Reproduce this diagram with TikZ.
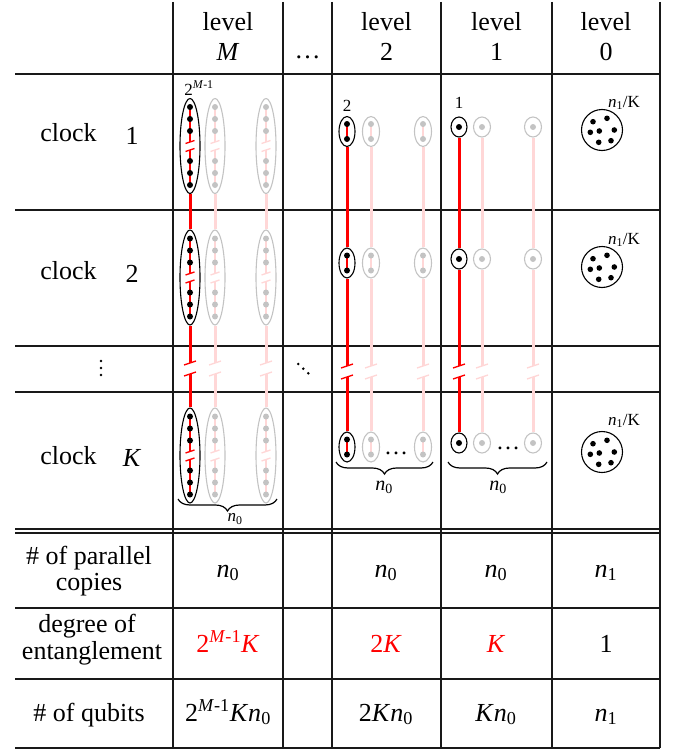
\documentclass[tikz,border=0pt]{standalone}
\usepackage{fontspec}
\setmainfont{Liberation Serif}
\usetikzlibrary{shapes.geometric,decorations.pathreplacing,calc}
\definecolor{pinkl}{RGB}{255,215,215}
\definecolor{grayl}{RGB}{195,195,195}
\definecolor{rulec}{RGB}{25,25,25}
\newcommand\nn[1]{\textit{n}\textsubscript{#1}}
\newcommand\tM{2\textsuperscript{\textit{M}-1}}
% inner dots of a tall ellipse: x, cy, line colour, dot colour
\newcommand\bigin[4]{%
  \draw[#3,line width=2pt] (#1,#2-39) -- (#1,#2-4);
  \draw[#3,line width=2pt] (#1,#2+4) -- (#1,#2+39);
  \draw[#3,tickln] (#1-4.5,#2-2.5) -- (#1+4.5,#2-5.5);
  \draw[#3,tickln] (#1-4.5,#2+5.5) -- (#1+4.5,#2+2.5);
  \foreach \dd in {-39,-27,-15,15,27,39} \fill[#4] (#1,{#2+(\dd)}) circle (3pt);
}
\newcommand\midin[4]{%
  \draw[#3,line width=2pt] (#1,#2-7.5) -- (#1,#2+7.5);
  \fill[#4] (#1,#2-7.5) circle (3pt);
  \fill[#4] (#1,#2+7.5) circle (3pt);
}
\begin{document}
\begin{tikzpicture}[x=1pt,y=-1pt,
  tline/.style={draw=rulec,line width=1.2pt},
  txt/.style={font=\fontsize{26}{28}\selectfont,inner sep=0pt,anchor=base},
  small/.style={font=\fontsize{17}{20}\selectfont,inner sep=0pt},
  bigblk/.style={ellipse,draw=black,line width=1.1pt,minimum width=20,minimum height=95,inner sep=0pt},
  biggry/.style={ellipse,draw=grayl,line width=1.1pt,minimum width=20,minimum height=95,inner sep=0pt},
  midblk/.style={ellipse,draw=black,line width=1.1pt,minimum width=16,minimum height=30,inner sep=0pt},
  midgry/.style={ellipse,draw=grayl,line width=1.1pt,minimum width=17,minimum height=30,inner sep=0pt},
  smlblk/.style={ellipse,draw=black,line width=1.1pt,minimum width=16,minimum height=20,inner sep=0pt},
  smlgry/.style={ellipse,draw=grayl,line width=1.1pt,minimum width=17,minimum height=20,inner sep=0pt},
  pool/.style={circle,draw=black,line width=1.1pt,minimum size=41,inner sep=0pt},
  conn/.style={line width=3pt},
  tickln/.style={line width=1.4pt},
  brc/.style={decorate,decoration={brace,mirror,amplitude=12pt},line width=1.2pt},
]
\useasboundingbox (0,0) rectangle (678,752);

% ---------- table grid ----------
\foreach \x in {173,283,332,441,552,660} \draw[tline] (\x,2) -- (\x,748);
\foreach \y in {74,210,346,392,529,533,608,679,748} \draw[tline] (15,\y) -- (660,\y);

% ---------- header ----------
\foreach \nm/\x/\t in {hM/228/\textit{M}, h2/386.5/2, h1/496.5/1, h0/606/0}{
  \node[txt] (\nm a) at (\x,31) {level};
  \node[txt] (\nm b) at (\x,60) {\t};
}
\node[txt] (hdots) at (307.5,59) {…};

% ---------- row labels ----------
\node[txt] (c1) at (68.5,141) {clock};
\node[txt] (c1n) at (132,144) {1};
\node[txt] (c2) at (68.5,279) {clock};
\node[txt] (c2n) at (132,282) {2};
\node[txt] (cK) at (68.5,464) {clock};
\node[txt] (cKn) at (132,466) {\textit{K}};
\foreach \yy in {361,368,375} \fill (101,\yy) circle (1.4pt);
\foreach \xx/\yy in {298.3/364,303.3/368.7,308.3/373.3} \fill (\xx,\yy) circle (1.4pt);

% ---------- level M ----------
\foreach \r/\cy in {1/146,2/277.5,K/455.5}{
  \bigin{190}{\cy}{red}{black}
  \bigin{215}{\cy}{pinkl}{grayl}
  \bigin{266}{\cy}{pinkl}{grayl}
  \node[bigblk] (M\r a) at (190,\cy) {};
  \node[biggry] (M\r b) at (215,\cy) {};
  \node[biggry] (M\r c) at (266,\cy) {};
}
\node[small] (lM) at (199,88) {\tM};

% ---------- level 2 ----------
\foreach \r/\cy in {1/131.5,2/263,K/447}{
  \midin{347}{\cy}{red}{black}
  \midin{371}{\cy}{pinkl}{grayl}
  \midin{423}{\cy}{pinkl}{grayl}
  \node[midblk] (T\r a) at (347,\cy) {};
  \node[midgry] (T\r b) at (371,\cy) {};
  \node[midgry] (T\r c) at (423,\cy) {};
}
\node[small] (l2) at (347,106) {2};

% ---------- level 1 ----------
\foreach \r/\cy in {1/127,2/259,K/443}{
  \fill[black] (459,\cy) circle (3pt);
  \fill[grayl] (482,\cy) circle (3pt);
  \fill[grayl] (533,\cy) circle (3pt);
  \node[smlblk] (O\r a) at (459,\cy) {};
  \node[smlgry] (O\r b) at (482,\cy) {};
  \node[smlgry] (O\r c) at (533,\cy) {};
}
\node[small] (l1) at (459,103) {1};

% ---------- vertical connectors with breaks ----------
\foreach \lv/\cl/\x/\col/\ya/\yb in {
  M/a/190/red/363/374, M/b/215/pinkl/363/374, M/c/266/pinkl/363/374,
  T/a/347/red/366/377, T/b/371/pinkl/366/377, T/c/423/pinkl/366/377,
  O/a/459/red/366/377, O/b/482/pinkl/366/377, O/c/533/pinkl/366/377}{
  \coordinate (\lv\cl t) at (\x,\ya);
  \coordinate (\lv\cl u) at (\x,\yb);
  \draw[conn,\col] (\lv1\cl.south) -- (\lv2\cl.north);
  \draw[conn,\col] (\lv2\cl.south) -- (\lv\cl t);
  \draw[conn,\col] (\lv\cl u) -- (\lv K\cl.north);
  \draw[tickln,\col] ($(\lv\cl t)+(-6,2)$) -- ($(\lv\cl t)+(6,-2)$);
  \draw[tickln,\col] ($(\lv\cl u)+(-6,2)$) -- ($(\lv\cl u)+(6,-2)$);
}

% ---------- dots and braces in clock K row ----------
\node[txt,font=\fontsize{24}{28}\selectfont] (dT) at (396,454) {…};
\node[txt,font=\fontsize{24}{28}\selectfont] (dO) at (508,449) {…};
\draw[brc] (178,499) -- (277,499);
\draw[brc] (336,462) -- (433,462);
\draw[brc] (448,462) -- (547,462);
\node[small] (bM) at (235,519) {\nn{0}};
\node[small,font=\fontsize{20}{22}\selectfont] (bT) at (384,487) {\nn{0}};
\node[small,font=\fontsize{20}{22}\selectfont] (bO) at (498,487) {\nn{0}};

% ---------- level 0 ----------
\foreach \r/\cy/\ly in {1/130/103,2/267/240,K/452/421}{
  \node[pool] (Z\r) at (602,\cy) {};
  \foreach \dx/\dy in {-9/-8.3,5/-11.7,-11.7/2.3,-2.7/1,12.3/0,-3.3/12.3,9/10.7}
    \fill (602+\dx,{\cy+(\dy)}) circle (2.8pt);
  \node[small] (Z\r l) at (624,\ly) {\nn{1}/K};
}

% ---------- bottom rows ----------
\node[txt] (p1) at (89,564) {\# of parallel};
\node[txt] (p2) at (89,590) {copies};
\node[txt] (d1) at (87,632) {degree of};
\node[txt] (d2) at (92,659) {entanglement};
\node[txt] (q1) at (89,721) {\# of qubits};

\node[txt] (pM) at (228,577) {\nn{0}};
\node[txt] (pT) at (386,577) {\nn{0}};
\node[txt] (pO) at (496,577) {\nn{0}};
\node[txt] (pZ) at (606,577) {\nn{1}};

\node[txt,text=red] (dM) at (228,652) {\tM\textit{K}};
\node[txt,text=red] (dT2) at (386,652) {2\textit{K}};
\node[txt,text=red] (dO2) at (496,652) {\textit{K}};
\node[txt] (dZ) at (606,652) {1};

\node[txt] (qM) at (228,721) {\tM\textit{K}\nn{0}};
\node[txt] (qT) at (386,721) {2\textit{K}\nn{0}};
\node[txt] (qO) at (496,721) {\textit{K}\nn{0}};
\node[txt] (qZ) at (606,721) {\nn{1}};
\end{tikzpicture}
\end{document}
